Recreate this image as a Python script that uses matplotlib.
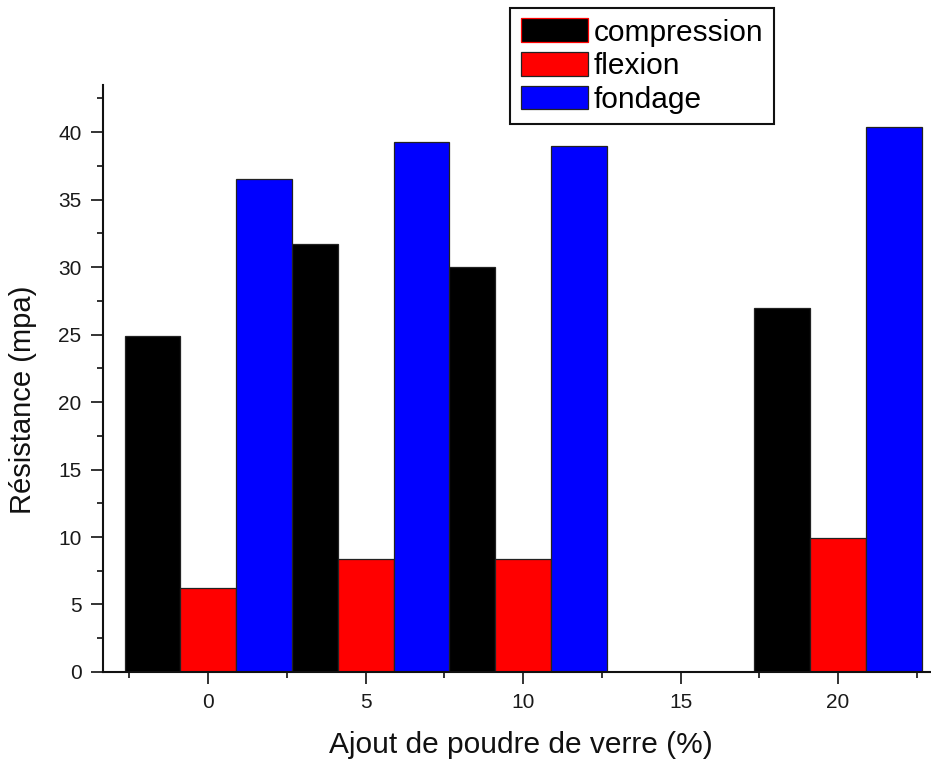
import numpy as np
import matplotlib
matplotlib.use("Agg")
import matplotlib.pyplot as plt
from matplotlib.ticker import MultipleLocator

plt.rcParams['font.family'] = ['Liberation Sans', 'DejaVu Sans']

# glass powder addition (%) and measured strengths (MPa); no sample at 15 %
ajout = [0, 5, 10, 15, 20]
compression = [24.9, 31.7, 30.0, np.nan, 27.0]
flexion = [6.2, 8.4, 8.4, np.nan, 9.9]
fondage = [36.5, 39.3, 39.0, np.nan, 40.4]

series = [
    ("compression", compression, "black"),
    ("flexion", flexion, "#ff0000"),
    ("fondage", fondage, "#0000ff"),
]

width = 1.77

fig = plt.figure(figsize=(9.31, 7.61), dpi=100)
ax = fig.add_axes([0.1106, 0.1170, 0.8894, 0.7713])

x = np.array(ajout, dtype=float)
for i, (name, vals, color) in enumerate(series):
    ax.bar(x + (i - 1) * width, vals, width=width, color=color,
           edgecolor="#222222", linewidth=0.9, label=name)

ax.set_xlim(-3.34, 22.95)
ax.set_ylim(0, 43.5)

ax.xaxis.set_major_locator(MultipleLocator(5))
ax.xaxis.set_minor_locator(MultipleLocator(2.5))
ax.yaxis.set_major_locator(MultipleLocator(5))
ax.yaxis.set_minor_locator(MultipleLocator(2.5))

for side in ("top", "right"):
    ax.spines[side].set_visible(False)
for side in ("left", "bottom"):
    ax.spines[side].set_linewidth(1.5)
    ax.spines[side].set_color("#111111")

ax.tick_params(which="major", direction="out", length=8.5, width=1.2,
               color="#111111", labelsize=15, labelcolor="#1a1a1a", pad=7)
ax.tick_params(which="minor", direction="out", length=4.5, width=1.2,
               color="#111111")

ax.set_xlabel("Ajout de poudre de verre (%)", fontsize=21.5, va="center",
              color="#111111")
ax.set_ylabel("Résistance (mpa)", fontsize=21, va="center", color="#111111")
ax.xaxis.set_label_coords(0.505, -0.124)
ax.yaxis.set_label_coords(-0.097, 0.463)

leg = ax.legend(loc="upper left", bbox_to_anchor=(0.548, 0.9895),
                bbox_transform=fig.transFigure, fontsize=21.5, fancybox=False,
                framealpha=1, edgecolor="#111111", borderaxespad=0,
                handlelength=2.25, handleheight=0.85, handletextpad=0.2,
                labelspacing=0.18, borderpad=0.35)
leg.get_frame().set_linewidth(1.5)
leg.get_patches()[0].set_edgecolor("#ff0000")

fig.savefig("out.png", dpi=100)
